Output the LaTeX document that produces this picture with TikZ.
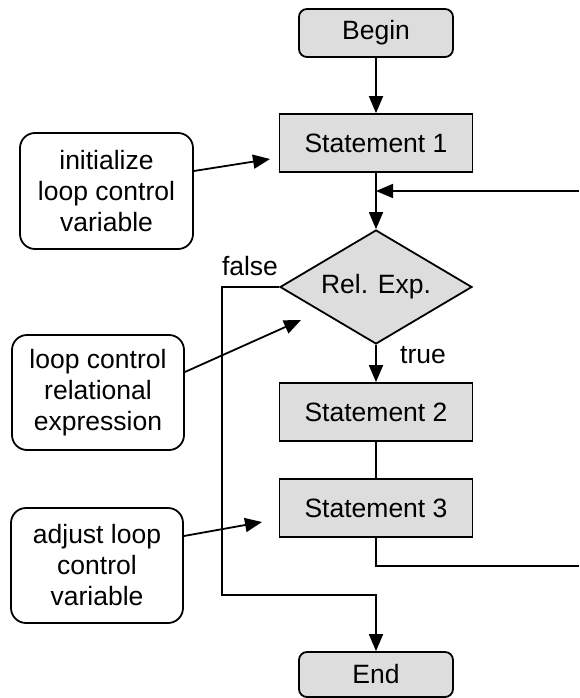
\documentclass[tikz,border=0pt]{standalone}
\usepackage{fontspec}
\setmainfont{Liberation Sans}
\usetikzlibrary{shapes.geometric,arrows.meta}
\definecolor{boxgray}{HTML}{DDDDDD}
\begin{document}
\begin{tikzpicture}[x=1pt,y=-1pt,
  every node/.style={font=\fontsize{26.5}{31}\selectfont, inner sep=0pt},
  base/.style={draw=black, line width=1.8pt, fill=boxgray},
  terminal/.style={base, rectangle, rounded corners=8pt, minimum width=154pt, minimum height=48pt},
  stmt/.style={base, rectangle, minimum width=193pt, minimum height=58pt},
  decision/.style={base, diamond, minimum width=192pt, minimum height=114pt, shape aspect=1.68},
  note/.style={draw=black, line width=1.8pt, fill=white, rectangle, rounded corners=15pt, minimum width=172pt, minimum height=115pt, align=center},
  conn/.style={line width=1.8pt},
  arr/.style={conn, -{Triangle[length=17pt,width=14pt]}}
]
\useasboundingbox (0,0) rectangle (579,698);

\node[terminal] (begin) at (376,33) {Begin};
\node[stmt] (s1) at (376,143) {Statement 1};
\node[decision] (dia) at (376,287) {Rel. Exp.};
\node[stmt] (s2) at (376,412) {Statement 2};
\node[stmt] (s3) at (376,508) {Statement 3};
\node[terminal, minimum height=45pt] (end) at (376,674.5) {End};

\node (lfalse) at (250,266) {false};
\node (ltrue) at (423,355) {true};

\node[note, minimum width=173pt, minimum height=116pt] (n1) at (106.5,191) {initialize\\loop control\\variable};
\node[note] (n2) at (98,392.5) {loop control\\relational\\expression};
\node[note] (n3) at (97,565.5) {adjust loop\\control\\variable};

\coordinate (t1) at (270,159);
\coordinate (t2) at (301,320);
\coordinate (t3) at (262,522);
\coordinate (r1) at (579,191);
\coordinate (r2) at (579,566);
\coordinate (f) at (222,595);

\draw[arr] (begin) -- (s1);
\draw[arr] (s1) -- (dia);
\draw[arr] (r1) -- (s1.south |- r1);
\draw[arr] (dia) -- (s2);
\draw[conn] (s2) -- (s3);
\draw[conn] (s3.south) |- (r2);
\draw[arr] (dia.west) -| (f) -| (end.north);

\draw[arr] (n1.east) ++(0,-20) -- (t1);
\draw[arr] (n2.east) ++(0,-20.5) -- (t2);
\draw[arr] (n3.east) ++(0,-29.5) -- (t3);
\end{tikzpicture}
\end{document}
